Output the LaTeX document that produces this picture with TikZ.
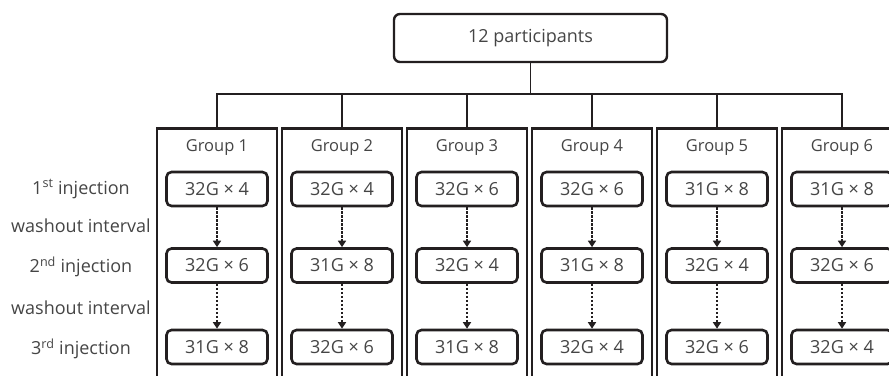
\documentclass[tikz,border=0pt]{standalone}
\usepackage{fontspec}
\setmainfont{Open Sans}
\usetikzlibrary{arrows.meta}
\definecolor{ink}{HTML}{231F20}
\definecolor{txt}{HTML}{454545}
\tikzset{
  every node/.style={font=\fontsize{18}{20}\selectfont, text=txt, inner sep=0pt},
  topbox/.style={draw=ink, line width=2.4pt, rounded corners=6pt, minimum width=273pt, minimum height=48pt},
  groupbox/.style={draw=ink, line width=2.6pt, minimum width=120pt, minimum height=270pt, anchor=north},
  dosebox/.style={draw=ink, line width=2.6pt, rounded corners=5pt, minimum width=101pt, minimum height=34pt},
  grouplabel/.style={font=\fontsize{16.5}{19}\selectfont},
  sidelabel/.style={},
  tree/.style={draw=ink, line width=1.8pt},
  flow/.style={draw=ink, line width=2.8pt, dash pattern=on 2.4pt off 1.6pt, -{Triangle[width=8pt,length=6.5pt]}},
}
\begin{document}
\begin{tikzpicture}[x=1pt,y=-1pt]
\useasboundingbox (0,0) rectangle (889,375);
\clip (0,0) rectangle (889,375);
\node[topbox] (top) at (530.5,38) {12 participants};
\coordinate (bus) at (530.5,94);
\foreach \i/\cx in {1/217,2/342,3/467,4/592,5/717,6/842}{
  \node[groupbox] (g\i) at (\cx,127) {};
  \node[grouplabel] (gl\i) at (\cx,147.5) {Group \i};
}
\foreach \i/\a/\b/\c in {1/32G × 4/32G × 6/31G × 8,2/32G × 4/31G × 8/32G × 6,3/32G × 6/32G × 4/31G × 8,4/32G × 6/31G × 8/32G × 4,5/31G × 8/32G × 4/32G × 6,6/31G × 8/32G × 6/32G × 4}{
  \node[dosebox] (d\i a) at (g\i.north |- 0,189) {\a};
  \node[dosebox] (d\i b) at (g\i.north |- 0,265.5) {\b};
  \node[dosebox] (d\i c) at (g\i.north |- 0,347) {\c};
  \draw[flow] (d\i a.south) -- (d\i b.north);
  \draw[flow] (d\i b.south) -- (d\i c.north);
}
\draw[tree] (top.south) -- (bus);
\draw[tree] (g1.north) |- (bus) -| (g6.north);
\foreach \i in {2,3,4,5}{
  \draw[tree] (g\i.north) -- (g\i.north |- bus);
}
\node[sidelabel] (l1) at (81,189) {1\textsuperscript{st} injection};
\node[sidelabel] (w1) at (81,226) {washout interval};
\node[sidelabel] (l2) at (81,267) {2\textsuperscript{nd} injection};
\node[sidelabel] (w2) at (81,308) {washout interval};
\node[sidelabel] (l3) at (81,349) {3\textsuperscript{rd} injection};
\end{tikzpicture}
\end{document}
